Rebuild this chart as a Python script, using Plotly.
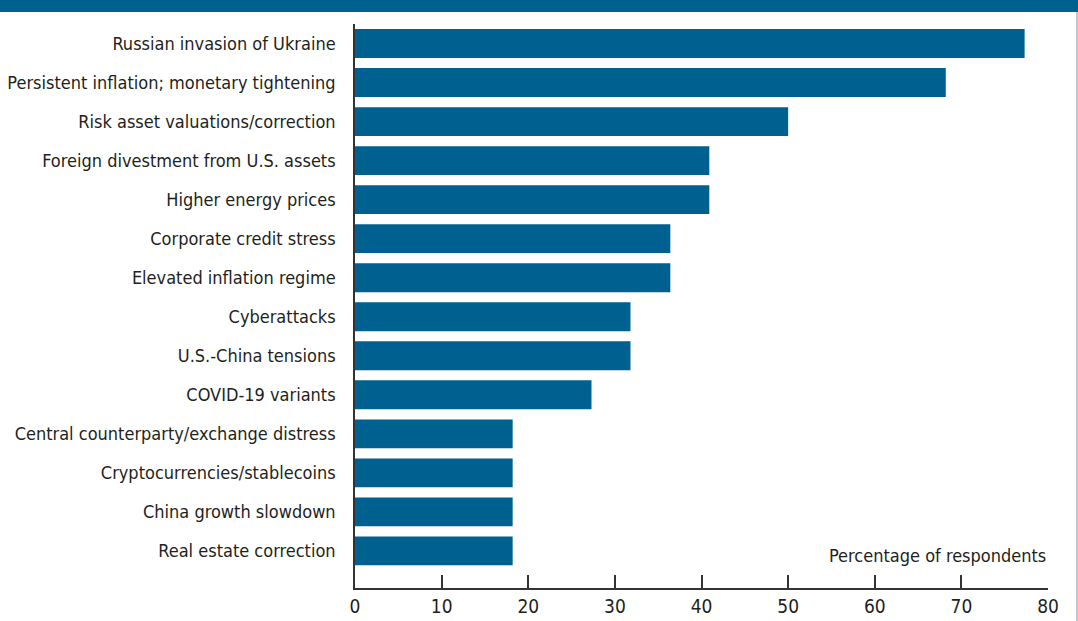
import plotly.graph_objects as go

categories = [
    "Russian invasion of Ukraine",
    "Persistent inflation; monetary tightening",
    "Risk asset valuations/correction",
    "Foreign divestment from U.S. assets",
    "Higher energy prices",
    "Corporate credit stress",
    "Elevated inflation regime",
    "Cyberattacks",
    "U.S.-China tensions",
    "COVID-19 variants",
    "Central counterparty/exchange distress",
    "Cryptocurrencies/stablecoins",
    "China growth slowdown",
    "Real estate correction",
]
values = [77.3, 68.2, 50.0, 40.9, 40.9, 36.4, 36.4, 31.8, 31.8, 27.3, 18.2, 18.2, 18.2, 18.2]
x_ticks = [0, 10, 20, 30, 40, 50, 60, 70, 80]

BLUE = "#00608F"
FONT = "DejaVu Sans Condensed, Liberation Sans, sans-serif"

fig = go.Figure()
fig.add_trace(go.Bar(
    x=values, y=categories, orientation="h",
    marker=dict(color=BLUE, line=dict(width=0)),
    hoverinfo="x+y",
))

fig.update_layout(
    width=1078, height=621,
    margin=dict(l=355, r=30, t=24, b=33),
    paper_bgcolor="white", plot_bgcolor="white",
    font=dict(family=FONT, size=18, color="#231f20"),
    bargap=0.26,
    showlegend=False,
)

fig.update_xaxes(
    range=[0, 80], tickvals=x_ticks,
    showgrid=False, zeroline=False, automargin=False,
    showline=True, linecolor="#333333", linewidth=1.5,
    ticks="inside", ticklen=13, tickwidth=1.5, tickcolor="#333333",
    tickfont=dict(size=19), ticklabelstandoff=0,
)
fig.update_yaxes(
    categoryorder="array", categoryarray=categories,
    range=[13.95, -0.5],
    showgrid=False, zeroline=False, automargin=False,
    showline=True, linecolor="#333333", linewidth=1.5,
    ticks="", ticklabelstandoff=14,
    tickfont=dict(size=18),
)

# top band
fig.add_shape(type="rect", xref="paper", yref="paper",
              x0=-0.6, x1=1.1, y0=1.0213, y1=1.1,
              fillcolor=BLUE, line=dict(width=0), layer="above")
# right edge line
fig.add_shape(type="line", xref="paper", yref="paper",
              x0=1.0418, x1=1.0418, y0=-0.1, y1=1.0213,
              line=dict(color="#b9c7d3", width=2))

fig.add_annotation(text="Percentage of respondents", xref="x", yref="paper",
                   x=80, y=0.0, xanchor="right", yanchor="bottom", yshift=20,
                   showarrow=False, font=dict(size=18))

fig.write_html("out.html", config={"displayModeBar": False},
               post_script="document.body.style.margin='0';")
